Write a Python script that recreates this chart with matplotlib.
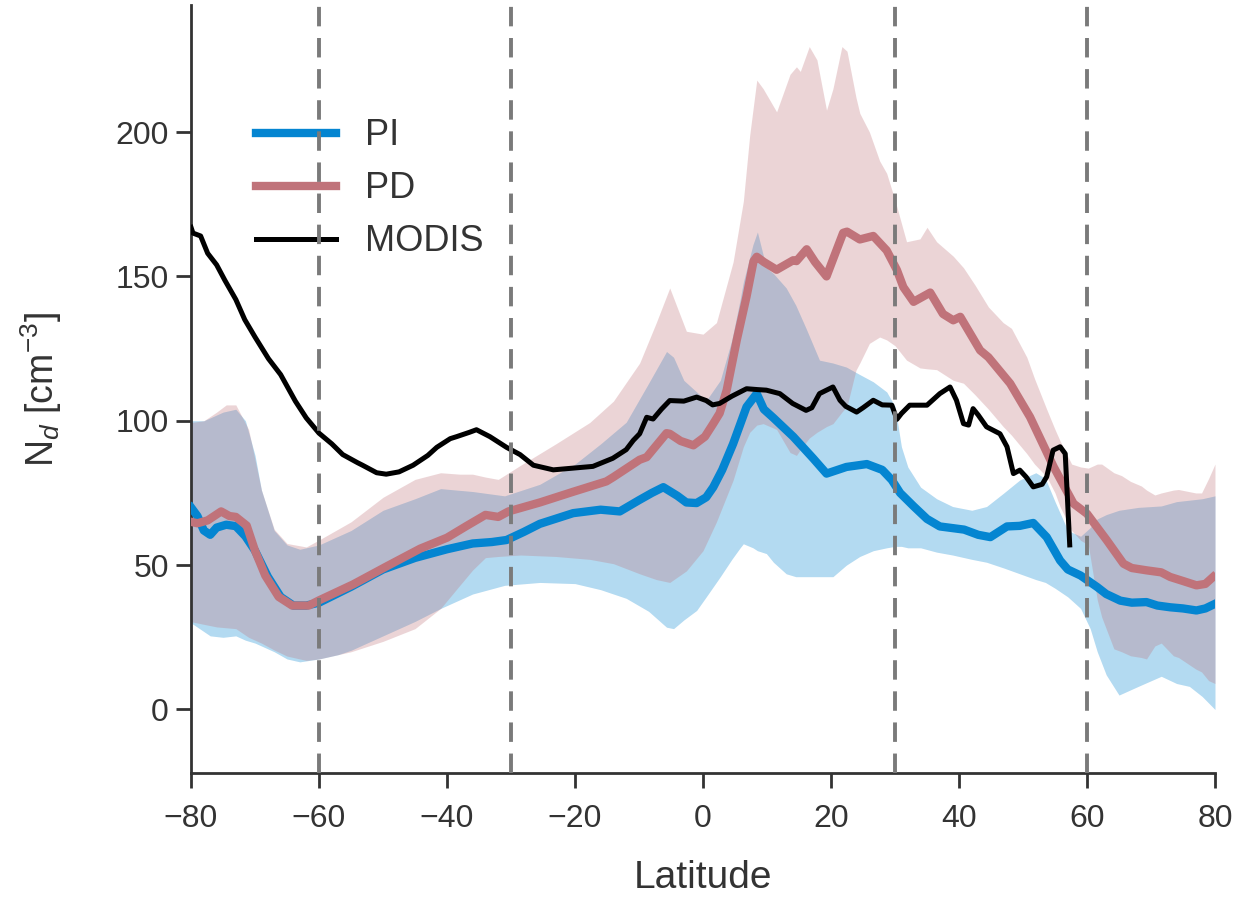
import numpy as np
import matplotlib.pyplot as plt

plt.rcParams['font.family'] = ['Liberation Sans', 'DejaVu Sans']
plt.rcParams['mathtext.fontset'] = 'custom'
plt.rcParams['mathtext.rm'] = 'Liberation Sans'
plt.rcParams['mathtext.it'] = 'Liberation Sans:italic'

# Zonal mean cloud droplet number concentration
pi_lat = [-80, -79, -78, -77, -76, -74.5, -73, -71.5, -70, -68, -66, -64, -62, -60, -55, -50,
          -45, -40, -36, -33, -30.7, -28, -25.5, -20.3, -16, -13, -10, -8, -6.2, -4, -2.6, -1,
          0.5, 1.6, 3, 4.7, 6.8, 8.4, 9.5, 11, 14.1, 17.2, 19.3, 22.4, 25.6, 28, 29.5, 30.8,
          32.9, 35, 37, 40.8, 43, 44.9, 47.5, 49.5, 51.6, 52.5, 53.7, 55.8, 57, 59, 61.6, 63,
          65.2, 67, 69.3, 71, 73, 75, 77.1, 78.5, 80]
pi_nd = [70, 67, 62, 60.5, 63, 64, 63.5, 60, 55, 46, 39, 36, 36, 37, 42.5, 48.5,
         52.5, 55.5, 57.5, 58, 58.7, 61.5, 64.3, 68, 69.2, 68.6, 72.5, 75, 77, 74, 71.7, 71.5,
         73.5, 77, 83, 92, 104.8, 109.4, 104, 101, 94.5, 87, 81.7, 84, 85, 83, 79.5, 75,
         70.4, 66, 63.4, 62.3, 60.5, 59.7, 63.4, 63.6, 64.6, 62.5, 59.7, 51.6, 48.5, 46.4, 42.4, 40,
         37.7, 37, 37.2, 36, 35.4, 35, 34.3, 35, 36.6]

pd_lat = [-80, -79, -77.4, -75.3, -74, -73, -71.3, -70, -68.4, -66.3, -64.2, -61.6, -60, -54.7,
          -49.5, -44.2, -40, -37, -34, -32, -30.4, -25.5, -20.3, -15.1, -14, -9.9, -8.8, -5.7,
          -5.2, -3.5, -1.5, 0.3, 1.6, 2.6, 3.7, 5.3, 6.8, 7.9, 8.4, 9.5, 11.5, 14.1, 14.6, 16.2,
          17.5, 19.3, 20.5, 21.9, 22.5, 24.5, 26.6, 28.7, 30.3, 31.3, 32.9, 35.5, 37.5, 39.1,
          40.2, 41, 43.3, 44.6, 48, 51.1, 54.8, 57.9, 60, 63.1, 65.7, 67, 69.3, 71.6, 73, 75,
          77.1, 78.5, 79.7]
pd_nd = [65, 64.5, 65.5, 68.6, 67, 66.7, 63.7, 55, 46.4, 39, 36, 36, 37.8, 43.3,
         49.5, 55.7, 59.5, 63.5, 67.4, 66.7, 68.6, 71.7, 75.4, 79, 80.5, 86.5, 87.4, 95.7,
         95.5, 93, 91.5, 94.5, 99, 102.6, 110.6, 128.2, 143, 155.3, 156.8, 155, 152.3, 155.6, 155.3, 159.4,
         155, 150, 157, 165.1, 165.5, 162.8, 164, 159, 152.2, 146.3, 141.2, 144.4, 137, 134.8,
         136, 133, 124.4, 122, 112.9, 101.3, 84, 71.3, 67.8, 58.6, 50.5, 49, 48.2, 47.5, 45.9, 44.5,
         43, 43.5, 45.9]

modis_lat = [-80, -79.7, -78.5, -77.4, -76, -74.7, -73, -71.6, -70, -67.9, -66, -63.7, -62, -60,
             -58, -56.3, -54, -53.2, -51, -49.5, -47.5, -45.3, -43, -41.6, -39.5, -38.5, -36.5,
             -35.4, -33.3, -30.7, -28.6, -26.5, -23.4, -20.3, -17.2, -14.1, -12, -10.9, -9.9,
             -8.8, -7.8, -6.5, -5.2, -3, -1, 0.5, 1.5, 2.6, 4.5, 6.8, 8.5, 9.9, 12, 14, 16.1, 17,
             18.2, 20.3, 21.4, 22.3, 24, 25, 26.6, 28, 29.5, 30.3, 31, 32.3, 35, 37, 38.6, 39.6,
             40.7, 41.5, 42.2, 43, 44.3, 46.4, 47.5, 48.5, 49.5, 50.5, 51.6, 53, 53.7, 54.7,
             55.8, 56.6, 57.3]
modis_nd = [167, 165, 164, 158, 154, 148.6, 142, 135, 129, 121.5, 116, 106.8, 101, 95.7,
            92, 88.3, 85.5, 84.6, 82, 81.5, 82.3, 84.6, 88, 90.8, 93.8, 94.5, 96,
            96.9, 94.5, 90.8, 88.3, 84.6, 83, 83.6, 84.2, 87, 90, 93.2, 95.5,
            101.2, 100.6, 104, 107, 106.8, 108.2, 107, 105.5, 106, 108.5, 111.1, 110.8, 110.6, 109.4, 106, 103.6, 104.5,
            109.4, 111.7, 107.1, 105, 103, 104.5, 107.1, 105.5, 105.4, 100.5, 102.5, 105.4, 105.4, 109.4, 111.7, 107.1,
            99, 98.5, 104.2, 102, 97.9, 95.5, 91, 81.7, 82.9, 80.5, 77.1, 78, 80.6, 89.8,
            91, 88.6, 57]

# spread (shaded bands)
pi_band_lat = [-80, -78, -77, -75, -73, -71.5, -70, -69, -67, -65, -63, -60, -57, -55, -50, -45,
               -41, -36, -31, -25.5, -20, -16, -12, -8.5, -5.7, -4.6, -3, -1, 0.5, 2.7, 4.5,
               5.8, 6.3, 7.8, 8.5, 9.9, 11, 13, 14.5, 16.1, 18.2, 20.3, 22.4, 24.5, 26.6, 28.7,
               30, 31, 32, 34, 36.5, 39, 42, 44.3, 47, 49.5, 52, 53.5, 55, 57, 59, 60.5, 61.6,
               63, 65, 68, 71.6, 74, 76, 78, 80]
pi_low = [30, 27, 25.5, 25, 25.5, 24, 23, 22, 20, 17.5, 16.5, 17.5, 19, 20.5, 25.5, 30.5,
          35, 40, 43, 44, 43.6, 41.5, 38.5, 34, 28.5, 28, 31, 34.3, 39, 46, 52,
          56, 57.4, 56, 55, 54, 51, 47, 46, 46, 46, 46, 50, 53, 55, 56,
          56.5, 56.5, 56, 56, 54.5, 53.5, 52, 51, 49, 47, 45, 44, 42, 39, 35, 28, 20,
          12, 5, 8, 11.5, 9, 8, 4.5, 0]
pi_high = [100, 100, 101, 103, 104, 100, 88, 76, 62, 57, 55.5, 57, 60, 62, 69, 73,
           76.5, 75.5, 74, 78, 85, 92, 99.5, 113, 124, 122, 114, 110, 107, 114, 128,
           142, 148, 161, 165.4, 153, 151, 146, 140, 132, 121, 120, 118.6, 116, 113.5, 110,
           105, 91, 84, 77, 73, 70.3, 69, 70.3, 75, 79.5, 82, 80, 72, 62, 60, 63, 66,
           67.5, 69, 70, 70.5, 72, 72.5, 73, 74]

pd_band_lat = [-80, -78, -76, -74.5, -73, -71, -69, -67, -65, -62, -60, -55, -50, -45, -41, -38,
               -36, -34, -32, -28.5, -23, -17.7, -14, -9.9, -7.3, -5.2, -2.6, 0, 2.1, 4.7, 6.3,
               7.3, 8.4, 9.4, 11.5, 13.6, 14.6, 15.2, 16.6, 17.8, 19.3, 20.3, 21.7, 22.5, 23.9,
               24.5, 26, 27.6, 28.7, 30, 31.8, 33.9, 35, 36.5, 39.1, 40.7, 42.5, 44.6, 46.9, 48.2,
               50.6, 51.8, 53.7, 55, 55.8, 57.6, 59, 60.2, 61.6, 62.3, 64.2, 65.4, 66.8, 68.5,
               69.3, 70.6, 71.6, 73.5, 74.3, 77, 77.9, 79, 80]
pd_low = [30.4, 29.5, 28.6, 28.3, 28, 25, 23, 20.6, 18.5, 17, 17.5, 20, 23.6, 28, 35, 43,
          48.3, 52.6, 53, 53.5, 53, 52, 50.5, 47, 45, 44, 48, 55, 65, 79.4, 91,
          96, 98.5, 99, 97, 89, 88, 90, 94, 96, 98, 99, 103, 105, 117.5,
          120, 126.8, 129, 128, 126, 121, 118.3, 118, 117.7, 114, 113, 109, 104, 98, 95,
          88.6, 85, 80.6, 75, 70.2, 62, 58.6, 57, 38, 32, 21, 20, 18.6, 18,
          17.5, 22, 23, 18.6, 18, 14, 13, 10, 9]
pd_high = [99.4, 100, 103, 105.5, 105.5, 97, 76, 62.4, 57.5, 56.3, 58.7, 65, 73.5, 79.7, 82, 81.5,
           81.5, 80.5, 79.7, 84.6, 92, 99.4, 106.8, 120, 134, 146, 131, 130, 134, 155, 176,
           199, 218, 215, 207, 220, 222.6, 221, 229.6, 225, 207.6, 215, 229.6, 228, 212,
           206.5, 200, 190, 185.7, 176.4, 162, 163, 167, 162, 157, 153, 147, 139.4, 134, 132,
           122, 114.6, 104, 97, 93, 85, 84, 83.6, 85, 85, 82, 81, 79, 77.4,
           76, 74.3, 75, 76, 76.2, 75, 75, 80, 85]

region_edges = [-60, -30, 30, 60]

pi_color = '#0485d1'
pd_color = '#c0737a'
text_color = '#333333'

fig = plt.figure(figsize=(12.34, 9.09), dpi=100)
ax = fig.add_axes([0.1548, 0.1496, 0.8298, 0.8449])

ax.fill_between(pi_band_lat, pi_low, pi_high, color=pi_color, alpha=0.3, lw=0, zorder=1)
ax.fill_between(pd_band_lat, pd_low, pd_high, color=pd_color, alpha=0.3, lw=0, zorder=1)

ax.plot(pi_lat, pi_nd, color=pi_color, lw=6, label='PI', zorder=3)
ax.plot(pd_lat, pd_nd, color=pd_color, lw=6, label='PD', zorder=3)
ax.plot(modis_lat, modis_nd, color='black', lw=3.6, label='MODIS', zorder=4)

for lat in region_edges:
    ax.axvline(lat, color='#7a7a7a', lw=2.8, ls=(0, (5, 3)), zorder=6)

ax.set_xlim(-80, 80)
ax.set_ylim(-22, 244)
ax.set_xticks(np.arange(-80, 81, 20))
ax.set_yticks(np.arange(0, 201, 50))

ax.set_xlabel('Latitude', fontsize=28, color=text_color, labelpad=19)
ax.set_ylabel('N$_d$ [cm$^{-3}$]', fontsize=27, color=text_color, labelpad=37)
ax.tick_params(labelsize=23, colors=text_color, length=11, width=2)
ax.tick_params(axis='x', pad=11)
ax.tick_params(axis='y', pad=5)

for side in ['top', 'right']:
    ax.spines[side].set_visible(False)
for side in ['left', 'bottom']:
    ax.spines[side].set_linewidth(2)
    ax.spines[side].set_color(text_color)

leg = ax.legend(loc='upper left', bbox_to_anchor=(0.032, 0.895), frameon=False, fontsize=26,
                handlelength=2.2, handletextpad=0.8, labelspacing=0.5)
for t in leg.get_texts():
    t.set_color(text_color)

fig.savefig('out.png', dpi=100)
